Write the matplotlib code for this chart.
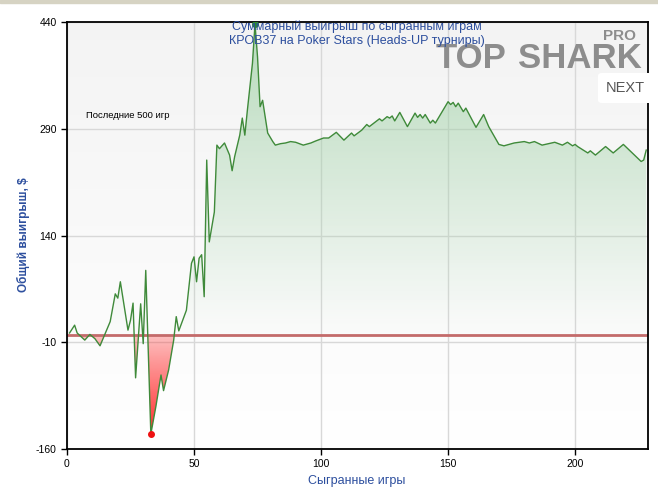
import numpy as np
import matplotlib.pyplot as plt
from matplotlib.patches import FancyBboxPatch, Rectangle
from matplotlib.path import Path

# cumulative winnings (game number, total $)
games = [1, 3, 4, 7, 9, 11, 13, 17, 19, 20, 21, 24, 25, 26, 27, 29, 30, 31, 33, 35,
         37, 38, 40, 42, 43, 44, 47, 49, 50, 51, 52, 53, 54, 55, 56, 58, 59, 60, 62, 64,
         65, 66, 68, 69, 70, 71, 73, 74, 75, 76, 77, 78, 79, 81, 82, 84, 86, 88, 90, 93,
         96, 98, 101, 103, 106, 109, 112, 113, 116, 118, 119, 123, 124, 126, 127, 128, 129, 131, 134, 137,
         138, 139, 140, 141, 143, 144, 145, 150, 151, 152, 153, 154, 156, 157, 161, 164, 166, 170, 172, 176,
         180, 182, 184, 187, 192, 195, 197, 199, 200, 201, 205, 206, 208, 212, 215, 219, 226, 227, 228]
total = [3, 14, 3, -7, 1, -5, -15, 19, 58, 52, 75, 7, 21, 45, -60, 44, -12, 91, -139, -100,
         -56, -78, -49, -7, 26, 6, 35, 101, 110, 75, 108, 113, 54, 246, 131, 173, 267, 262, 270, 253,
         231, 251, 281, 305, 281, 316, 382, 437, 391, 321, 330, 307, 284, 272, 267, 269, 270, 272, 271, 267,
         270, 273, 277, 277, 285, 274, 284, 280, 288, 296, 293, 304, 301, 307, 305, 308, 301, 313, 293, 312,
         306, 310, 305, 310, 298, 302, 298, 328, 324, 327, 321, 326, 314, 319, 292, 310, 293, 268, 266, 270,
         272, 270, 272, 267, 271, 267, 271, 266, 268, 265, 256, 259, 253, 265, 256, 268, 244, 246, 260]

y_ticks = [-160, -10, 140, 290, 440]
x_ticks = [0, 50, 100, 150, 200]

blue = '#2d4f9e'
plt.rcParams['font.family'] = ['Liberation Sans', 'DejaVu Sans']
plt.rcParams['axes.unicode_minus'] = False

fig = plt.figure(figsize=(6.58, 5.01), dpi=100)
ax = fig.add_axes([67/658, 1-449/501, 581/658, 427/501])

x = np.array(games)
y = np.array(total)
ext = [0, 228.7, -160, 440]

# faint gray background getting lighter to the bottom
bg = np.linspace(0.955, 1.0, 256).reshape(-1, 1)
ax.imshow(np.dstack([bg, bg, bg]), extent=ext, aspect='auto', origin='upper', zorder=0)

# gradient fills: green above zero, red below
vals = np.linspace(440, -160, 600)
green = np.zeros((600, 1, 4))
green[:, 0, :3] = [0.62, 0.82, 0.65]
green[:, 0, 3] = np.clip(vals / 440, 0, 1) * 0.7
red = np.zeros((600, 1, 4))
red[:, 0, :3] = [1.0, 0.2, 0.2]
red[:, 0, 3] = np.where(vals < 0, np.clip(0.3 - vals / 190, 0, 1), 0)

for mask, im in [(y >= 0, green), (y <= 0, red)]:
    coll = ax.fill_between(x, y, 0, where=mask, interpolate=True, color='none', lw=0)
    clip = Path.make_compound_path(*coll.get_paths())
    art = ax.imshow(im, extent=ext, aspect='auto', origin='upper', zorder=1)
    art.set_clip_path(clip, transform=ax.transData)

ax.axhline(0, color='#c46b6b', lw=2, zorder=2)
ax.plot(x, y, color='#3f8a3a', lw=1, zorder=3)

imin = int(np.argmin(y))
imax = int(np.argmax(y))
ax.plot(x[imin], y[imin], 'o', color='#ee1111', ms=4, zorder=4)
ax.plot(x[imax], y[imax], 'o', color='#2e8b2e', ms=4, zorder=4)

ax.set_xlim(0, 228.7)
ax.set_ylim(-160, 440)
ax.set_xticks(x_ticks)
ax.set_yticks(y_ticks)
ax.grid(color='#d8d8d8', lw=1)
ax.set_axisbelow(True)
ax.tick_params(labelsize=7.5, length=4, width=1, colors='black')
for s in ax.spines.values():
    s.set_color('black')
    s.set_linewidth(1.3)

fig.text(357/658, 1-481/501, 'Сыгранные игры', color=blue, fontsize=9, ha='center', va='center')
fig.text(23/658, 1-235/501, 'Общий выигрыш, $', color=blue, fontsize=8.5, fontweight='bold',
         rotation=90, ha='center', va='center')

ax.text(7.5, 309, 'Последние 500 игр', fontsize=6.8, color='black', va='center', zorder=5)

fig.text(357/658, 1-27/501, 'Суммарный выигрыш по сыгранным играм', ha='center', va='center',
         fontsize=9, color=blue, zorder=6)
fig.text(357/658, 1-41/501, 'КРОВ37 на Poker Stars (Heads-UP турниры)', ha='center', va='center',
         fontsize=9, color=blue, zorder=6)

# logo watermark
fig.text(436/658, 1-58/501, 'TOP', fontsize=25, fontweight='bold', color='#8d8d8d', va='center', zorder=5)
fig.text(518/658, 1-58/501, 'SHARK', fontsize=25, fontweight='bold', color='#8d8d8d', va='center', zorder=5)
fig.text(603/658, 1-36/501, 'PRO', fontsize=11, fontweight='bold', color='#8d8d8d', va='center', zorder=5)

# top strip and NEXT button
fig.add_artist(Rectangle((0, 1-3/501), 1, 3/501, transform=fig.transFigure, color='#d6d3c3', zorder=7))
fig.add_artist(FancyBboxPatch((598/658, 1-103/501), 60/658, 30/501, transform=fig.transFigure,
                              boxstyle='round,pad=0,rounding_size=0.006', fc='white', ec='none', zorder=7))
fig.text(625/658, 1-88/501, 'NEXT', fontsize=10.5, color='#555555', ha='center', va='center', zorder=8)

fig.savefig('out.png', dpi=100)
